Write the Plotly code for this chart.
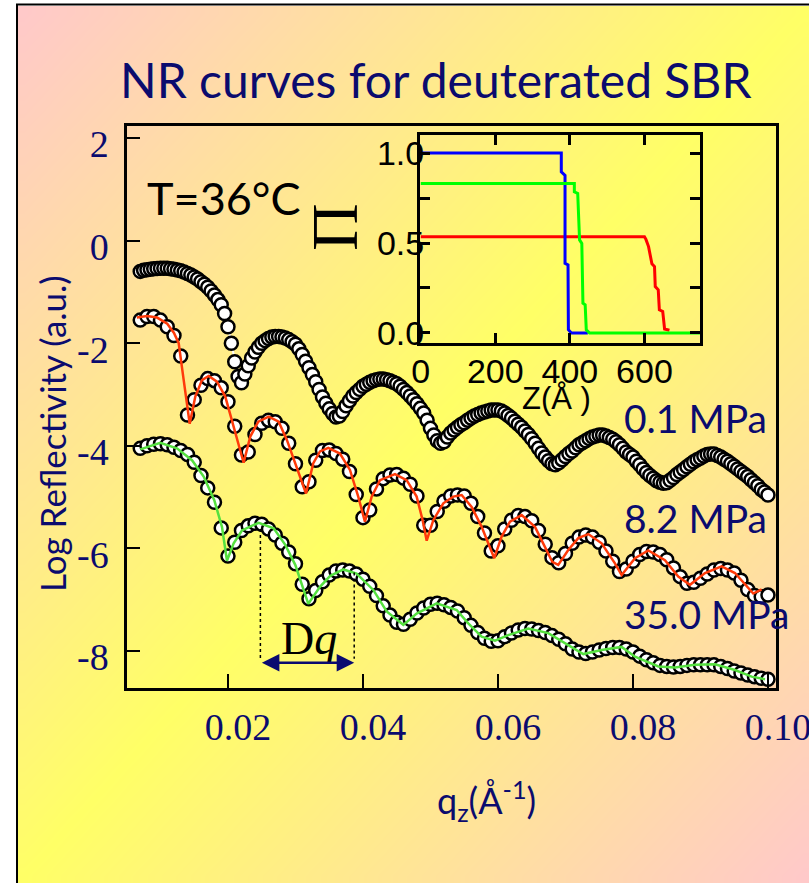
import plotly.graph_objects as go
import numpy as np

W, H = 809, 883

# ---------------- data ----------------
q_top = [0.0070, 0.0075, 0.0080, 0.0085, 0.0090, 0.0095, 0.0100, 0.0105, 0.0110, 0.0115,
         0.0120, 0.0125, 0.0130, 0.0135, 0.0140, 0.0145, 0.0150, 0.0155, 0.0160, 0.0165,
         0.0170, 0.0175, 0.0180, 0.0185, 0.0190, 0.0195, 0.0200, 0.0205, 0.0210, 0.0215,
         0.0220, 0.0225, 0.0230, 0.0235, 0.0240, 0.0245, 0.0250, 0.0255, 0.0260, 0.0265,
         0.0270, 0.0275, 0.0280, 0.0285, 0.0290, 0.0295, 0.0300, 0.0305, 0.0310, 0.0315,
         0.0320, 0.0325, 0.0330, 0.0335, 0.0340, 0.0345, 0.0350, 0.0355, 0.0360, 0.0365,
         0.0370, 0.0375, 0.0380, 0.0385, 0.0390, 0.0395, 0.0400, 0.0405, 0.0410, 0.0415,
         0.0420, 0.0425, 0.0430, 0.0435, 0.0440, 0.0445, 0.0450, 0.0455, 0.0460, 0.0465,
         0.0470, 0.0475, 0.0480, 0.0485, 0.0490, 0.0495, 0.0500, 0.0505, 0.0510, 0.0515,
         0.0520, 0.0525, 0.0530, 0.0535, 0.0540, 0.0545, 0.0550, 0.0555, 0.0560, 0.0565,
         0.0570, 0.0575, 0.0580, 0.0585, 0.0590, 0.0595, 0.0600, 0.0605, 0.0610, 0.0615,
         0.0620, 0.0625, 0.0630, 0.0635, 0.0640, 0.0645, 0.0650, 0.0655, 0.0660, 0.0665,
         0.0670, 0.0675, 0.0680, 0.0685, 0.0690, 0.0695, 0.0700, 0.0705, 0.0710, 0.0715,
         0.0720, 0.0725, 0.0730, 0.0735, 0.0740, 0.0745, 0.0750, 0.0755, 0.0760, 0.0765,
         0.0770, 0.0775, 0.0780, 0.0785, 0.0790, 0.0795, 0.0800, 0.0805, 0.0810, 0.0815,
         0.0820, 0.0825, 0.0830, 0.0835, 0.0840, 0.0845, 0.0850, 0.0855, 0.0860, 0.0865,
         0.0870, 0.0875, 0.0880, 0.0885, 0.0890, 0.0895, 0.0900, 0.0905, 0.0910, 0.0915,
         0.0920, 0.0925, 0.0930, 0.0935, 0.0940, 0.0945, 0.0950, 0.0955, 0.0960, 0.0965,
         0.0970, 0.0975, 0.0980, 0.0985, 0.0990, 0.0995, 0.1000]

logR_01MPa = [-0.60, -0.58, -0.57, -0.56, -0.55, -0.545, -0.54, -0.54, -0.54, -0.55,
              -0.56, -0.575, -0.59, -0.61, -0.64, -0.67, -0.71, -0.75, -0.80, -0.85,
              -0.91, -0.98, -1.06, -1.15, -1.25, -1.42, -1.68, -2.00, -2.36, -2.65,
              -2.77, -2.60, -2.44, -2.29, -2.17, -2.08, -2.00, -1.95, -1.91, -1.88,
              -1.87, -1.87, -1.88, -1.90, -1.93, -1.97, -2.02, -2.11, -2.22, -2.35,
              -2.48, -2.61, -2.75, -2.90, -3.05, -3.17, -3.28, -3.37, -3.44, -3.42,
              -3.33, -3.22, -3.12, -3.03, -2.96, -2.90, -2.84, -2.80, -2.76, -2.73,
              -2.71, -2.70, -2.70, -2.71, -2.73, -2.76, -2.79, -2.84, -2.90, -2.96,
              -3.03, -3.10, -3.18, -3.27, -3.36, -3.50, -3.66, -3.79, -3.90, -3.95,
              -3.92, -3.83, -3.75, -3.69, -3.64, -3.59, -3.55, -3.50, -3.46, -3.42,
              -3.39, -3.36, -3.34, -3.32, -3.30, -3.30, -3.30, -3.32, -3.36, -3.41,
              -3.46, -3.52, -3.58, -3.64, -3.71, -3.78, -3.86, -3.95, -4.05, -4.14,
              -4.22, -4.29, -4.35, -4.37, -4.33, -4.27, -4.21, -4.15, -4.10, -4.04,
              -3.98, -3.94, -3.90, -3.86, -3.83, -3.81, -3.79, -3.79, -3.81, -3.84,
              -3.87, -3.92, -3.98, -4.05, -4.12, -4.17, -4.22, -4.30, -4.37, -4.45,
              -4.52, -4.58, -4.63, -4.68, -4.71, -4.73, -4.72, -4.67, -4.62, -4.56,
              -4.51, -4.46, -4.41, -4.36, -4.31, -4.27, -4.24, -4.20, -4.17, -4.16,
              -4.16, -4.19, -4.22, -4.26, -4.30, -4.35, -4.40, -4.45, -4.50, -4.55,
              -4.60, -4.66, -4.72, -4.78, -4.85, -4.90, -4.96]

q_meas = [0.007, 0.008, 0.009, 0.010, 0.011, 0.012, 0.013, 0.014, 0.015, 0.016,
          0.017, 0.018, 0.019, 0.020, 0.021, 0.022, 0.023, 0.024, 0.025, 0.026,
          0.027, 0.028, 0.029, 0.030, 0.031, 0.032, 0.033, 0.034, 0.035, 0.036,
          0.037, 0.038, 0.039, 0.040, 0.041, 0.042, 0.043, 0.044, 0.045, 0.046,
          0.047, 0.048, 0.049, 0.050, 0.051, 0.052, 0.053, 0.054, 0.055, 0.056,
          0.057, 0.058, 0.059, 0.060, 0.061, 0.062, 0.063, 0.064, 0.065, 0.066,
          0.067, 0.068, 0.069, 0.070, 0.071, 0.072, 0.073, 0.074, 0.075, 0.076,
          0.077, 0.078, 0.079, 0.080, 0.081, 0.082, 0.083, 0.084, 0.085, 0.086,
          0.087, 0.088, 0.089, 0.090, 0.091, 0.092, 0.093, 0.094, 0.095, 0.096,
          0.097, 0.098, 0.099, 0.100]

logR_82MPa = [-1.55, -1.48, -1.48, -1.55, -1.68, -1.85, -2.25, -3.40, -3.10, -2.82,
              -2.69, -2.73, -2.87, -3.14, -3.62, -4.18, -4.12, -3.78, -3.56, -3.50,
              -3.53, -3.66, -3.95, -4.35, -4.80, -4.70, -4.28, -4.09, -4.08, -4.15,
              -4.26, -4.50, -4.95, -5.40, -5.25, -4.84, -4.64, -4.57, -4.56, -4.63,
              -4.75, -4.98, -5.55, -5.55, -5.28, -5.08, -4.98, -4.96, -4.98, -5.12,
              -5.38, -5.70, -6.05, -5.95, -5.62, -5.45, -5.36, -5.38, -5.46, -5.65,
              -5.92, -6.18, -6.28, -6.10, -5.90, -5.78, -5.74, -5.78, -5.88, -6.05,
              -6.25, -6.45, -6.40, -6.25, -6.12, -6.06, -6.07, -6.12, -6.22, -6.38,
              -6.55, -6.68, -6.66, -6.58, -6.50, -6.42, -6.39, -6.42, -6.48, -6.62,
              -6.80, -6.92, -6.94, -6.91]

logR_350MPa = [-4.05, -4.00, -3.97, -3.96, -3.98, -4.03, -4.09, -4.17, -4.32, -4.58,
               -4.82, -5.10, -5.60, -6.15, -5.88, -5.65, -5.56, -5.51, -5.53, -5.62,
               -5.74, -5.90, -6.07, -6.30, -6.70, -6.98, -6.82, -6.65, -6.52, -6.44,
               -6.42, -6.44, -6.50, -6.60, -6.74, -6.92, -7.12, -7.30, -7.44, -7.48,
               -7.38, -7.26, -7.16, -7.09, -7.07, -7.10, -7.15, -7.22, -7.35, -7.50,
               -7.64, -7.75, -7.81, -7.80, -7.72, -7.65, -7.59, -7.56, -7.57, -7.60,
               -7.64, -7.70, -7.77, -7.86, -7.96, -8.02, -8.05, -8.02, -7.98, -7.95,
               -7.93, -7.93, -7.96, -8.02, -8.10, -8.17, -8.23, -8.28, -8.30, -8.31,
               -8.30, -8.28, -8.27, -8.27, -8.27, -8.27, -8.30, -8.34, -8.39, -8.43,
               -8.47, -8.50, -8.53, -8.55]

fit82_q = [0.0065, 0.0080, 0.0095, 0.0110, 0.0120, 0.0127, 0.01344, 0.01433, 0.01516, 0.01615,
           0.01714, 0.01837, 0.0196, 0.02084, 0.02232, 0.0233, 0.02449, 0.02603, 0.02751, 0.02874,
           0.03017, 0.03156, 0.03264, 0.03363, 0.03486, 0.03659, 0.03807, 0.0393, 0.04029, 0.04129,
           0.04252, 0.04474, 0.04647, 0.04795, 0.04884, 0.04944, 0.05042, 0.0519, 0.05338, 0.05462,
           0.0561, 0.05758, 0.05945, 0.06054, 0.06178, 0.06351, 0.06548, 0.06696, 0.06805, 0.06893,
           0.07041, 0.0719, 0.07338, 0.07536, 0.07733, 0.07832, 0.0803, 0.08227, 0.08474, 0.08671,
           0.08844, 0.09067, 0.09314, 0.09511, 0.09708, 0.09782, 0.09906]
fit82_r = [-1.50, -1.47, -1.50, -1.62, -1.80, -2.00, -2.72, -3.57, -3.04, -2.72,
           -2.64, -2.75, -3.04, -3.62, -4.33, -3.82, -3.53, -3.43, -3.53, -3.89,
           -4.41, -4.93, -4.34, -4.11, -4.04, -4.15, -4.47, -4.99, -5.48, -4.99,
           -4.67, -4.55, -4.67, -4.99, -5.45, -5.85, -5.45, -5.12, -4.99, -4.96,
           -5.19, -5.58, -6.19, -5.77, -5.48, -5.35, -5.58, -5.97, -6.26, -6.32,
           -6.03, -5.80, -5.72, -5.90, -6.29, -6.52, -6.19, -6.04, -6.23, -6.55,
           -6.71, -6.48, -6.35, -6.48, -6.78, -6.88, -6.80]

fit350_q = [0.0070, 0.00997, 0.01244, 0.01467, 0.0164, 0.01797, 0.01911, 0.01985, 0.02084, 0.02207,
            0.02455, 0.02677, 0.02849, 0.02997, 0.0319, 0.03363, 0.03511, 0.03708, 0.03906, 0.04153,
            0.04351, 0.04598, 0.04795, 0.05092, 0.05388, 0.0556, 0.05758, 0.05956, 0.06153, 0.06449,
            0.06745, 0.06993, 0.07264, 0.07536, 0.07832, 0.0803, 0.08375, 0.08622, 0.08919, 0.09215,
            0.09511, 0.09758, 0.09956]
fit350_r = [-4.07, -3.94, -4.05, -4.28, -4.60, -5.06, -5.58, -6.24, -5.90, -5.65,
            -5.50, -5.61, -5.93, -6.32, -7.08, -6.75, -6.54, -6.41, -6.49, -6.81,
            -7.23, -7.49, -7.27, -7.07, -7.20, -7.46, -7.72, -7.80, -7.69, -7.56,
            -7.65, -7.85, -8.06, -7.98, -7.92, -8.11, -8.30, -8.32, -8.27, -8.26,
            -8.37, -8.50, -8.55]

# Delta-q marker positions (peak positions of the 35.0 MPa curve)
dq_left, dq_right = 0.0248, 0.0387
dq_left_top, dq_right_top = -5.62, -6.47
dq_bottom = -8.23

# inset: profiles Pi(z)
z_01 = [0, 377, 377, 381, 387, 387, 395, 396, 404, 448]
pi_01 = [1.0, 1.0, 0.895, 0.886, 0.876, 0.387, 0.378, 0.018, 0.0, 0.0]
z_82 = [0, 412, 412, 421, 426, 432, 435, 441, 444, 453, 752]
pi_82 = [0.83, 0.83, 0.784, 0.775, 0.517, 0.498, 0.166, 0.157, 0.018, 0.0, 0.0]
z_350 = [0, 600, 604, 611, 620, 627, 629, 637, 640, 649, 654, 667]
pi_350 = [0.535, 0.535, 0.52, 0.48, 0.384, 0.369, 0.258, 0.24, 0.129, 0.12, 0.022, 0.015]

x_ticks = [0.02, 0.04, 0.06, 0.08, 0.10]
x_ticktext = ["0.02", "0.04", "0.06", "0.08", "0.10"]
y_ticks = [2, 0, -2, -4, -6, -8]
y_ticktext = ["2", "0", "-2", "-4", "-6", "-8"]
inset_xticks = [0, 200, 400, 600]
inset_yticks = [0.0, 0.5, 1.0]
inset_yticktext = ["0.0", "0.5", "1.0"]

pressure_labels = ["0.1 MPa", "8.2 MPa", "35.0 MPa"]

NAVY = "#0b0b6e"


def px(x):
    return x / W


def py(y):
    return 1 - y / H


fig = go.Figure()

# background gradient (decorative)
n = 64
g = np.linspace(0, 1, n)
bgz = (g[None, :] + (1 - g[:, None])) / 2
fig.add_trace(go.Heatmap(z=bgz, xaxis="x", yaxis="y", showscale=False, zsmooth="best",
                         colorscale=[[0, "#ffc9c9"], [0.5, "#ffff66"], [1, "#ffc9c9"]],
                         hoverinfo="skip"))

marker = dict(size=13, color="white", line=dict(color="black", width=2.5))

fig.add_trace(go.Scatter(x=q_top, y=logR_01MPa, xaxis="x2", yaxis="y2", mode="lines+markers",
                         line=dict(color="white", width=2), marker=marker))
fig.add_trace(go.Scatter(x=q_meas, y=logR_82MPa, xaxis="x2", yaxis="y2", mode="markers",
                         marker=marker))
fig.add_trace(go.Scatter(x=fit82_q, y=fit82_r, xaxis="x2", yaxis="y2", mode="lines",
                         line=dict(color="#ff3a0a", width=2.5)))
fig.add_trace(go.Scatter(x=q_meas, y=logR_350MPa, xaxis="x2", yaxis="y2", mode="markers",
                         marker=marker))
fig.add_trace(go.Scatter(x=fit350_q, y=fit350_r, xaxis="x2", yaxis="y2", mode="lines",
                         line=dict(color="#55e040", width=2.5)))

# inset
fig.add_trace(go.Scatter(x=z_350, y=pi_350, xaxis="x3", yaxis="y3", mode="lines",
                         line=dict(color="#ff0000", width=3)))
fig.add_trace(go.Scatter(x=z_01, y=pi_01, xaxis="x3", yaxis="y3", mode="lines",
                         line=dict(color="#0000ff", width=3)))
fig.add_trace(go.Scatter(x=z_82, y=pi_82, xaxis="x3", yaxis="y3", mode="lines",
                         line=dict(color="#00ff00", width=3)))

fig.update_layout(
    width=W, height=H, autosize=False,
    margin=dict(l=0, r=0, t=0, b=0, pad=0, autoexpand=False),
    paper_bgcolor="white", plot_bgcolor="rgba(0,0,0,0)", showlegend=False,
    xaxis=dict(domain=[18 / W, 1], range=[-0.5, n - 0.5], visible=False, fixedrange=True,
               automargin=False),
    yaxis=dict(domain=[0, 1 - 6 / H], range=[-0.5, n - 0.5], visible=False, fixedrange=True,
               automargin=False),
    xaxis2=dict(domain=[127 / W, 776 / W], range=[0.00504, 0.10119], anchor="y2", automargin=False,
                showline=True, linecolor="black", linewidth=2.5, mirror=True,
                ticks="inside", ticklen=14, tickwidth=2, tickcolor="black",
                tickvals=x_ticks, ticktext=x_ticktext, showgrid=False, zeroline=False,
                tickfont=dict(family="Liberation Serif", size=38, color=NAVY),
                ticklabelstandoff=4, ticklabelshift=10, ticklabeloverflow="allow"),
    yaxis2=dict(domain=[1 - 688 / H, 1 - 126 / H], range=[-8.721, 2.234], anchor="x2", automargin=False,
                showline=True, linecolor="black", linewidth=2.5, mirror=True,
                ticks="inside", ticklen=13, tickwidth=2, tickcolor="black",
                tickvals=y_ticks, ticktext=y_ticktext, showgrid=False, zeroline=False,
                tickfont=dict(family="Liberation Serif", size=38, color=NAVY),
                ticklabelstandoff=8, ticklabelshift=6, ticklabeloverflow="allow"),
    xaxis3=dict(domain=[420 / W, 700 / W], range=[-2, 749], anchor="y3", automargin=False,
                showline=True, linecolor="black", linewidth=3, mirror="ticks",
                ticks="inside", ticklen=10, tickwidth=3, tickcolor="black",
                tickvals=inset_xticks, showgrid=False, zeroline=False,
                tickfont=dict(family="Liberation Sans", size=34, color="black"),
                ticklabelstandoff=-4, ticklabeloverflow="allow"),
    yaxis3=dict(domain=[1 - 343 / H, 1 - 135 / H], range=[-0.0556, 1.1], anchor="x3", automargin=False,
                showline=True, linecolor="black", linewidth=3, mirror="ticks",
                ticks="inside", ticklen=10, tickwidth=3, tickcolor="black",
                tickvals=inset_yticks, ticktext=inset_yticktext, showgrid=False, zeroline=False,
                minor=dict(dtick=0.25, ticks="inside", ticklen=10, tickwidth=3, tickcolor="black"),
                tickfont=dict(family="Liberation Sans", size=34, color="black"),
                ticklabelstandoff=-14, ticklabeloverflow="allow"),
)

ann = []


def label(text, x, y, size, color, family="Lato", xanchor="center", angle=0, xref="paper"):
    ann.append(dict(text=text, x=x, y=y, xref=xref, yref="paper", xanchor=xanchor, yanchor="middle",
                    showarrow=False, textangle=angle, font=dict(family=family, size=size, color=color)))


label("NR curves for deuterated SBR", px(436), py(80), 48, NAVY)
label("Log Reflectivity (a.u.)", px(52), py(434), 35, NAVY, angle=-90)
label("q<sub>z</sub>(Å<sup>-1</sup>)", px(486), py(800), 36, NAVY)
label("T=36°C", px(224), py(198), 45, "black")
label("Π", px(334), py(227), 66, "black", family="Liberation Serif", angle=-90)
label("Z(Å )", px(556), py(398), 31, "black", family="Liberation Sans")
for lab, yc in zip(pressure_labels, [418, 518, 614]):
    label(lab, px(622), py(yc), 39, NAVY, xanchor="left")
label("D<i>q</i>", (dq_left + dq_right) / 2 + 0.0002, py(638), 46, "black",
      family="Liberation Serif", xref="x2")
ann.append(dict(text="", x=dq_right, y=dq_bottom, ax=dq_left, ay=dq_bottom, xref="x2", yref="y2",
                axref="x2", ayref="y2", showarrow=True, arrowside="end+start", arrowhead=2,
                arrowsize=1.4, arrowwidth=2.5, arrowcolor="#0a0a70", standoff=0, startstandoff=0))
fig.update_layout(annotations=ann)

shapes = [
    dict(type="line", xref="x2", yref="y2", x0=dq_left, x1=dq_left, y0=dq_left_top, y1=dq_bottom + 0.08,
         line=dict(color="black", width=1.5, dash="dot")),
    dict(type="line", xref="x2", yref="y2", x0=dq_right, x1=dq_right, y0=dq_right_top, y1=dq_bottom + 0.08,
         line=dict(color="black", width=1.5, dash="dot")),
    dict(type="line", xref="paper", yref="paper", x0=px(17), x1=px(17), y0=0, y1=py(4),
         line=dict(color="black", width=2)),
    dict(type="line", xref="paper", yref="paper", x0=px(16), x1=1, y0=py(4.5), y1=py(4.5),
         line=dict(color="black", width=2)),
]
fig.update_layout(shapes=shapes)

fig.write_html("out.html")
